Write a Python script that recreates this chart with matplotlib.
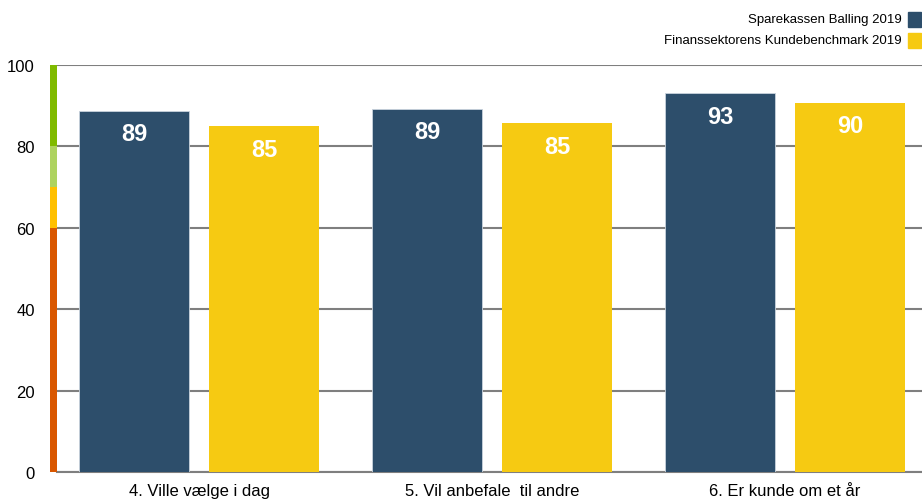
import matplotlib.pyplot as plt
import numpy as np
from matplotlib.patches import Rectangle

categories = ["4. Ville vælge i dag", "5. Vil anbefale  til andre", "6. Er kunde om et år"]
series_names = ["Sparekassen Balling 2019", "Finanssektorens Kundebenchmark 2019"]
balling = [88.7, 89.2, 93.1]
benchmark = [85.0, 85.7, 90.7]
balling_labels = ["89", "89", "93"]
benchmark_labels = ["85", "85", "90"]
yticks = [0, 20, 40, 60, 80, 100]

# colour scale strip on the y axis: (from, to, colour)
strip = [(0, 60, "#D95700"), (60, 70, "#FFC000"), (70, 80, "#AED35F"), (80, 100, "#7FBA00")]

blue = "#2D4E6B"
yellow = "#F6CA12"
W, H = 922, 502

plt.rcParams["font.family"] = ["Liberation Sans", "DejaVu Sans"]

fig = plt.figure(figsize=(W / 100, H / 100), dpi=100)
ax = fig.add_axes([57 / W, 29 / H, (W - 57) / W, 407 / H])

x = np.arange(len(categories))
bw = 0.375
off = 0.222
b1 = ax.bar(x - off, balling, bw, color=blue, edgecolor="#c9d3dd", linewidth=0.6, zorder=3)
b2 = ax.bar(x + off, benchmark, bw, color=yellow, zorder=3)

for bars, labels in [(b1, balling_labels), (b2, benchmark_labels)]:
    for bar, lab in zip(bars, labels):
        ax.annotate(lab, (bar.get_x() + bar.get_width() / 2, bar.get_height()),
                    xytext=(0, -23), textcoords="offset pixels", ha="center", va="center",
                    color="white", fontsize=17, fontweight="bold", zorder=4)

ax.set_xlim(-0.485, 2.468)
ax.set_ylim(0, 100)
ax.set_yticks(yticks)
ax.yaxis.grid(True, color="#7f7f7f", linewidth=1.5, zorder=0)
ax.set_axisbelow(True)
for s in ["top", "right", "left"]:
    ax.spines[s].set_visible(False)
ax.spines["bottom"].set_color("#7f7f7f")
ax.spines["bottom"].set_linewidth(1.5)
ax.set_xticks(x)
ax.set_xticklabels(categories, fontsize=12)
ax.tick_params(axis="x", length=0, pad=8)
ax.tick_params(axis="y", length=0, pad=16, labelsize=12)

# colour strip next to the y axis
sax = fig.add_axes([50 / W, 29 / H, 7 / W, 407 / H])
for lo, hi, c in strip:
    sax.bar(0, hi - lo, 1, bottom=lo, color=c)
sax.set_xlim(-0.5, 0.5)
sax.set_ylim(0, 100)
sax.axis("off")

# legend
for i, (name, c) in enumerate(zip(series_names, [blue, yellow])):
    yc = 1 - (20 + 21 * i) / H
    fig.text(902 / W, yc, name, ha="right", va="center", fontsize=9.5)
    fig.patches.append(Rectangle((908 / W, yc - 7.5 / H), 13 / W, 15 / H,
                                 transform=fig.transFigure, color=c))

fig.savefig("out.png", dpi=100)
